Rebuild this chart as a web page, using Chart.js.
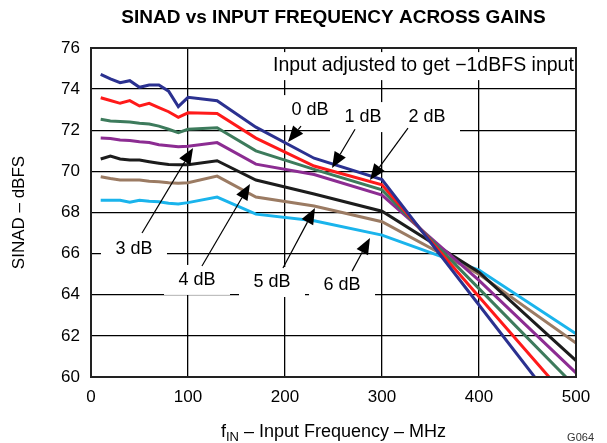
<!DOCTYPE html>
<html>
<head>
<meta charset="utf-8">
<title>SINAD vs Input Frequency Across Gains</title>
<script src="https://cdn.jsdelivr.net/npm/chart.js@4.4.1/dist/chart.umd.min.js"></script>
<style>
  html, body { margin: 0; padding: 0; background: #fff; }
</style>
</head>
<body>
<canvas id="sinadChart" width="607" height="443"></canvas>
<script>
// input frequency (MHz)
const freqMHz = [10, 20, 30, 40, 50, 60, 70, 80, 90, 100, 130, 170, 230, 300, 400, 500];

// SINAD in dBFS, one array per gain setting
const sinad0dB = [74.72, 74.5, 74.31, 74.41, 74.09, 74.2, 74.2, 73.9, 73.15, 73.6, 73.44, 72.15, 70.64, 69.6, 63.5, 57.4];
const sinad1dB = [73.58, 73.45, 73.31, 73.44, 73.18, 73.31, 73.1, 72.9, 72.63, 72.85, 72.82, 71.62, 70.26, 69.35, 63.9, 58.5];
const sinad2dB = [72.53, 72.45, 72.42, 72.4, 72.34, 72.3, 72.2, 72.05, 71.88, 72.05, 72.12, 71.0, 70.1, 69.1, 64.3, 59.5];
const sinad3dB = [71.62, 71.6, 71.53, 71.5, 71.44, 71.4, 71.3, 71.25, 71.2, 71.22, 71.4, 70.35, 69.85, 68.85, 64.7, 60.2];
const sinad4dB = [70.6, 70.75, 70.6, 70.55, 70.55, 70.47, 70.4, 70.33, 70.32, 70.32, 70.52, 69.58, 68.9, 68.06, 65.1, 60.8];
const sinad5dB = [69.74, 69.65, 69.58, 69.58, 69.58, 69.52, 69.5, 69.45, 69.42, 69.45, 69.77, 68.75, 68.32, 67.55, 65.0, 61.65];
const sinad6dB = [68.6, 68.6, 68.6, 68.5, 68.6, 68.55, 68.52, 68.45, 68.41, 68.48, 68.75, 67.92, 67.6, 66.9, 65.2, 62.1];

const gainLabels = ["0 dB", "1 dB", "2 dB", "3 dB", "4 dB", "5 dB", "6 dB"];

// axis ticks
const xTickValues = [0, 100, 200, 300, 400, 500];
const yTickValues = [60, 62, 64, 66, 68, 70, 72, 74, 76];

const FONT = "'Liberation Sans', Arial, Helvetica, sans-serif";
const lineColors = ["#2b3190", "#ff1a1a", "#3d7b5c", "#8c2c92", "#1c1c1c", "#9b7b63", "#1ab4ec"];
const allSeries = [sinad0dB, sinad1dB, sinad2dB, sinad3dB, sinad4dB, sinad5dB, sinad6dB];

// callouts, placed in data units (MHz, dBFS)
const callouts = [
  { text: gainLabels[0], at: [225.8, 72.98], tail: [216.5, 72.2], tip: [203.1, 71.43] },
  { text: gainLabels[1], at: [280.4, 72.64], tail: [272.2, 72.05], tip: [248.5, 70.16] },
  { text: gainLabels[2], at: [346.4, 72.64], tail: [326.8, 72.1], tip: [287.6, 69.58] },
  { text: gainLabels[3], at: [44.3, 66.22], tail: [52.6, 67.0], tip: [105.2, 71.14] },
  { text: gainLabels[4], at: [109.3, 64.72], tail: [114.4, 65.4], tip: [163.9, 69.39] },
  { text: gainLabels[5], at: [186.6, 64.62], tail: [197.9, 65.3], tip: [230.9, 68.22] },
  { text: gainLabels[6], at: [258.8, 64.47], tail: [269.1, 65.15], tip: [287.6, 66.76] },
];
const noteText = "Input adjusted to get \u22121dBFS input";

function arrow(ctx, x0, y0, x1, y1) {
  const a = Math.atan2(y1 - y0, x1 - x0);
  const len = 16, half = 6.5;
  const c = Math.cos(a), s = Math.sin(a);
  ctx.beginPath();
  ctx.moveTo(x0, y0);
  ctx.lineTo(x1 - len * c, y1 - len * s);
  ctx.stroke();
  ctx.beginPath();
  ctx.moveTo(x1, y1);
  ctx.lineTo(x1 - len * c + half * s, y1 - len * s - half * c);
  ctx.lineTo(x1 - len * c - half * s, y1 - len * s + half * c);
  ctx.closePath();
  ctx.fill();
}

// white boxes under the labels (hide grid), then text + arrows on top
const calloutPlugin = {
  id: "callouts",
  beforeDatasetsDraw(chart) {
    const { ctx, scales: { x, y }, chartArea } = chart;
    ctx.save();
    ctx.fillStyle = "#fff";
    callouts.forEach(c => {
      const cx = x.getPixelForValue(c.at[0]);
      const cy = y.getPixelForValue(c.at[1]);
      ctx.fillRect(cx - 33, cy - 15, 66, 30);
    });
    ctx.fillRect(268, y.getPixelForValue(75.12) - 14, chartArea.right - 268, 28);
    ctx.restore();
  },
  afterDatasetsDraw(chart) {
    const { ctx, scales: { x, y }, chartArea } = chart;
    ctx.save();
    ctx.fillStyle = "#000";
    ctx.strokeStyle = "#000";
    ctx.lineWidth = 1.2;
    ctx.font = "18px " + FONT;
    ctx.textAlign = "center";
    ctx.textBaseline = "middle";
    callouts.forEach(c => {
      ctx.fillText(c.text, x.getPixelForValue(c.at[0]), y.getPixelForValue(c.at[1]));
      arrow(ctx,
        x.getPixelForValue(c.tail[0]), y.getPixelForValue(c.tail[1]),
        x.getPixelForValue(c.tip[0]), y.getPixelForValue(c.tip[1]));
    });
    ctx.textAlign = "left";
    ctx.font = "19.5px " + FONT;
    ctx.fillText(noteText, 273, y.getPixelForValue(75.12));

    // plot frame
    ctx.strokeStyle = "#222";
    ctx.lineWidth = 2;
    ctx.strokeRect(chartArea.left, chartArea.top, chartArea.right - chartArea.left, chartArea.bottom - chartArea.top);
    ctx.restore();
  },
  afterDraw(chart) {
    const { ctx, chartArea } = chart;
    ctx.save();
    ctx.fillStyle = "#000";
    ctx.textBaseline = "middle";
    // x axis title with subscript
    const big = "18px " + FONT, small = "13px " + FONT;
    const rest = " \u2013 Input Frequency \u2013 MHz";
    ctx.font = big;
    const wF = ctx.measureText("f").width, wRest = ctx.measureText(rest).width;
    ctx.font = small;
    const wSub = ctx.measureText("IN").width;
    let x0 = (chartArea.left + chartArea.right) / 2 - (wF + wSub + wRest) / 2;
    const ty = 432;
    ctx.font = big;
    ctx.fillText("f", x0, ty);
    ctx.font = small;
    ctx.fillText("IN", x0 + wF, ty + 5);
    ctx.font = big;
    ctx.fillText(rest, x0 + wF + wSub, ty);
    // figure id
    ctx.font = "11px " + FONT;
    ctx.textAlign = "right";
    ctx.fillStyle = "#333";
    ctx.fillText("G064", 594, 438);
    ctx.restore();
  }
};

new Chart(document.getElementById("sinadChart"), {
  type: "line",
  data: {
    datasets: allSeries.map((vals, i) => ({
      label: gainLabels[i],
      data: freqMHz.map((f, j) => ({ x: f, y: vals[j] })),
      borderColor: lineColors[i],
      borderWidth: 3,
      pointRadius: 0,
      tension: 0,
      fill: false
    }))
  },
  options: {
    responsive: false,
    animation: false,
    layout: { padding: { left: 0, right: 31, top: 0, bottom: 0 } },
    plugins: {
      legend: { display: false },
      tooltip: { enabled: false },
      title: {
        display: true,
        fullSize: false,
        text: "SINAD vs INPUT FREQUENCY ACROSS GAINS",
        color: "#000",
        font: { family: FONT, size: 19, weight: "bold" },
        padding: { top: 6.6, bottom: 18.6 }
      }
    },
    scales: {
      x: {
        type: "linear",
        min: 0,
        max: 500,
        afterBuildTicks: axis => { axis.ticks = xTickValues.map(v => ({ value: v })); },
        afterFit: axis => { axis.height = 66; },
        grid: { color: "#000", lineWidth: 1.3, drawTicks: false },
        border: { display: false },
        ticks: { color: "#000", font: { family: FONT, size: 17 }, padding: 10, maxRotation: 0 }
      },
      y: {
        min: 60,
        max: 76,
        afterBuildTicks: axis => { axis.ticks = yTickValues.map(v => ({ value: v })); },
        afterFit: axis => { axis.width = 91; },
        grid: { color: "#000", lineWidth: 1.3, drawTicks: false },
        border: { display: false },
        ticks: { color: "#000", font: { family: FONT, size: 17 }, padding: 11 },
        title: {
          display: true,
          text: "SINAD \u2013 dBFS",
          color: "#000",
          font: { family: FONT, size: 17 },
          padding: { top: 9, bottom: 0 }
        }
      }
    }
  },
  plugins: [calloutPlugin]
});
</script>
</body>
</html>
